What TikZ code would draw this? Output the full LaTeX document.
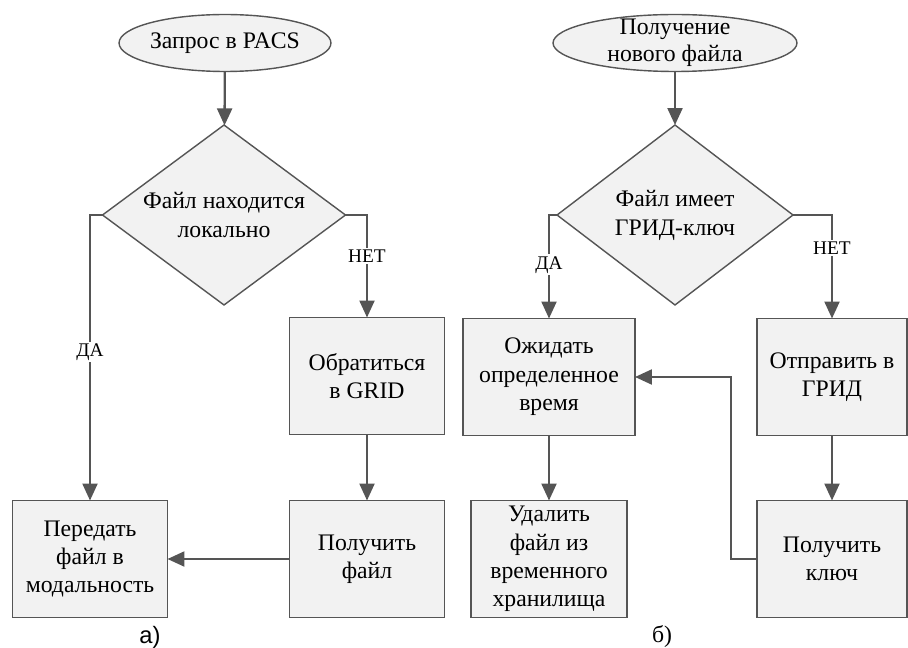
\documentclass[tikz,border=0pt]{standalone}
\usepackage{fontspec}
\setmainfont{LiberationSerif}[Extension=.ttf, UprightFont=*-Regular, BoldFont=*-Bold]
\newfontfamily\capfont{Liberation Sans}
\usetikzlibrary{shapes.geometric,arrows.meta}
\definecolor{linegray}{HTML}{555555}
\definecolor{boxfill}{HTML}{F2F2F2}

\begin{document}
\begin{tikzpicture}[
    x=0.02cm, y=-0.02cm,
    start/.style={
        ellipse,
        draw=linegray,
        fill=boxfill,
        line width=0.8pt,
        minimum height=1.14cm,
        inner xsep=0pt,
        inner ysep=-6pt,
        outer sep=0pt,
        align=center,
        font=\fontsize{13.5}{15.5}\selectfont
    },
    decide/.style={
        diamond,
        aspect=1.35,
        draw=linegray,
        fill=boxfill,
        line width=0.8pt,
        inner sep=0pt,
        outer sep=0pt,
        minimum height=3.6cm,
        align=center,
        font=\fontsize{13.5}{16.5}\selectfont
    },
    act/.style={
        rectangle,
        draw=linegray,
        fill=boxfill,
        line width=0.8pt,
        minimum width=3.1cm,
        minimum height=2.34cm,
        inner sep=0pt,
        outer sep=0pt,
        align=center,
        font=\fontsize{13.5}{16.2}\selectfont
    },
    lbl/.style={
        fill=white,
        inner sep=1pt,
        font=\fontsize{11}{13}\selectfont
    },
    flow/.style={
        draw=linegray,
        line width=1.3pt,
        -{Triangle[length=0.34cm,width=0.3cm]}
    }
]
\useasboundingbox (0,0) rectangle (908,648);

% Part a
\node[start, minimum width=4.2cm] (askpacs) at (225,43) {Запрос в PACS};
\node[decide, minimum width=4.86cm] (islocal) at (224,215) {Файл находится\\локально};
\node[act] (askgrid) at (367,376) {Обратиться\\в GRID};
\node[act] (getfile) at (367,559) {Получить\\файл};
\node[act] (sendmod) at (90,559) {Передать\\файл в\\модальность};
\node[font=\capfont\fontsize{13.5}{15}\selectfont] (capa) at (150,637) {а)};

% Part b
\node[start, minimum width=4.88cm] (newfile) at (675,43) {Получение\\нового файла};
\node[decide, minimum width=4.72cm] (haskey) at (675,215) {Файл имеет\\ГРИД-ключ};
\node[act, minimum width=3.44cm] (wait) at (549,377) {Ожидать\\определенное\\время};
\node[act, minimum width=3.0cm] (sendgrid) at (832,377) {Отправить в\\ГРИД};
\node[act, minimum width=3.12cm] (delete) at (549,559) {Удалить\\файл из\\временного\\хранилища};
\node[act, minimum width=3.0cm] (getkey) at (832,559) {Получить\\ключ};
\node[font=\fontsize{13.5}{15}\selectfont] (capb) at (662,637) {б)};

% Arrows a
\draw[flow] (askpacs) -- (islocal);
\draw[flow] (islocal.east) -| node[lbl, pos=0.7] {НЕТ} (askgrid);
\draw[flow] (islocal.west) -| node[lbl, pos=0.74] {ДА} (sendmod);
\draw[flow] (askgrid) -- (getfile);
\draw[flow] (getfile) -- (sendmod);

% Arrows b
\draw[flow] (newfile) -- (haskey);
\draw[flow] (haskey.west) -| node[lbl, pos=0.74] {ДА} (wait);
\draw[flow] (haskey.east) -| node[lbl, pos=0.66] {НЕТ} (sendgrid);
\draw[flow] (wait) -- (delete);
\draw[flow] (sendgrid) -- (getkey);
\draw[flow] (getkey.west) -- ++(-26,0) |- (wait.east);

\end{tikzpicture}
\end{document}
